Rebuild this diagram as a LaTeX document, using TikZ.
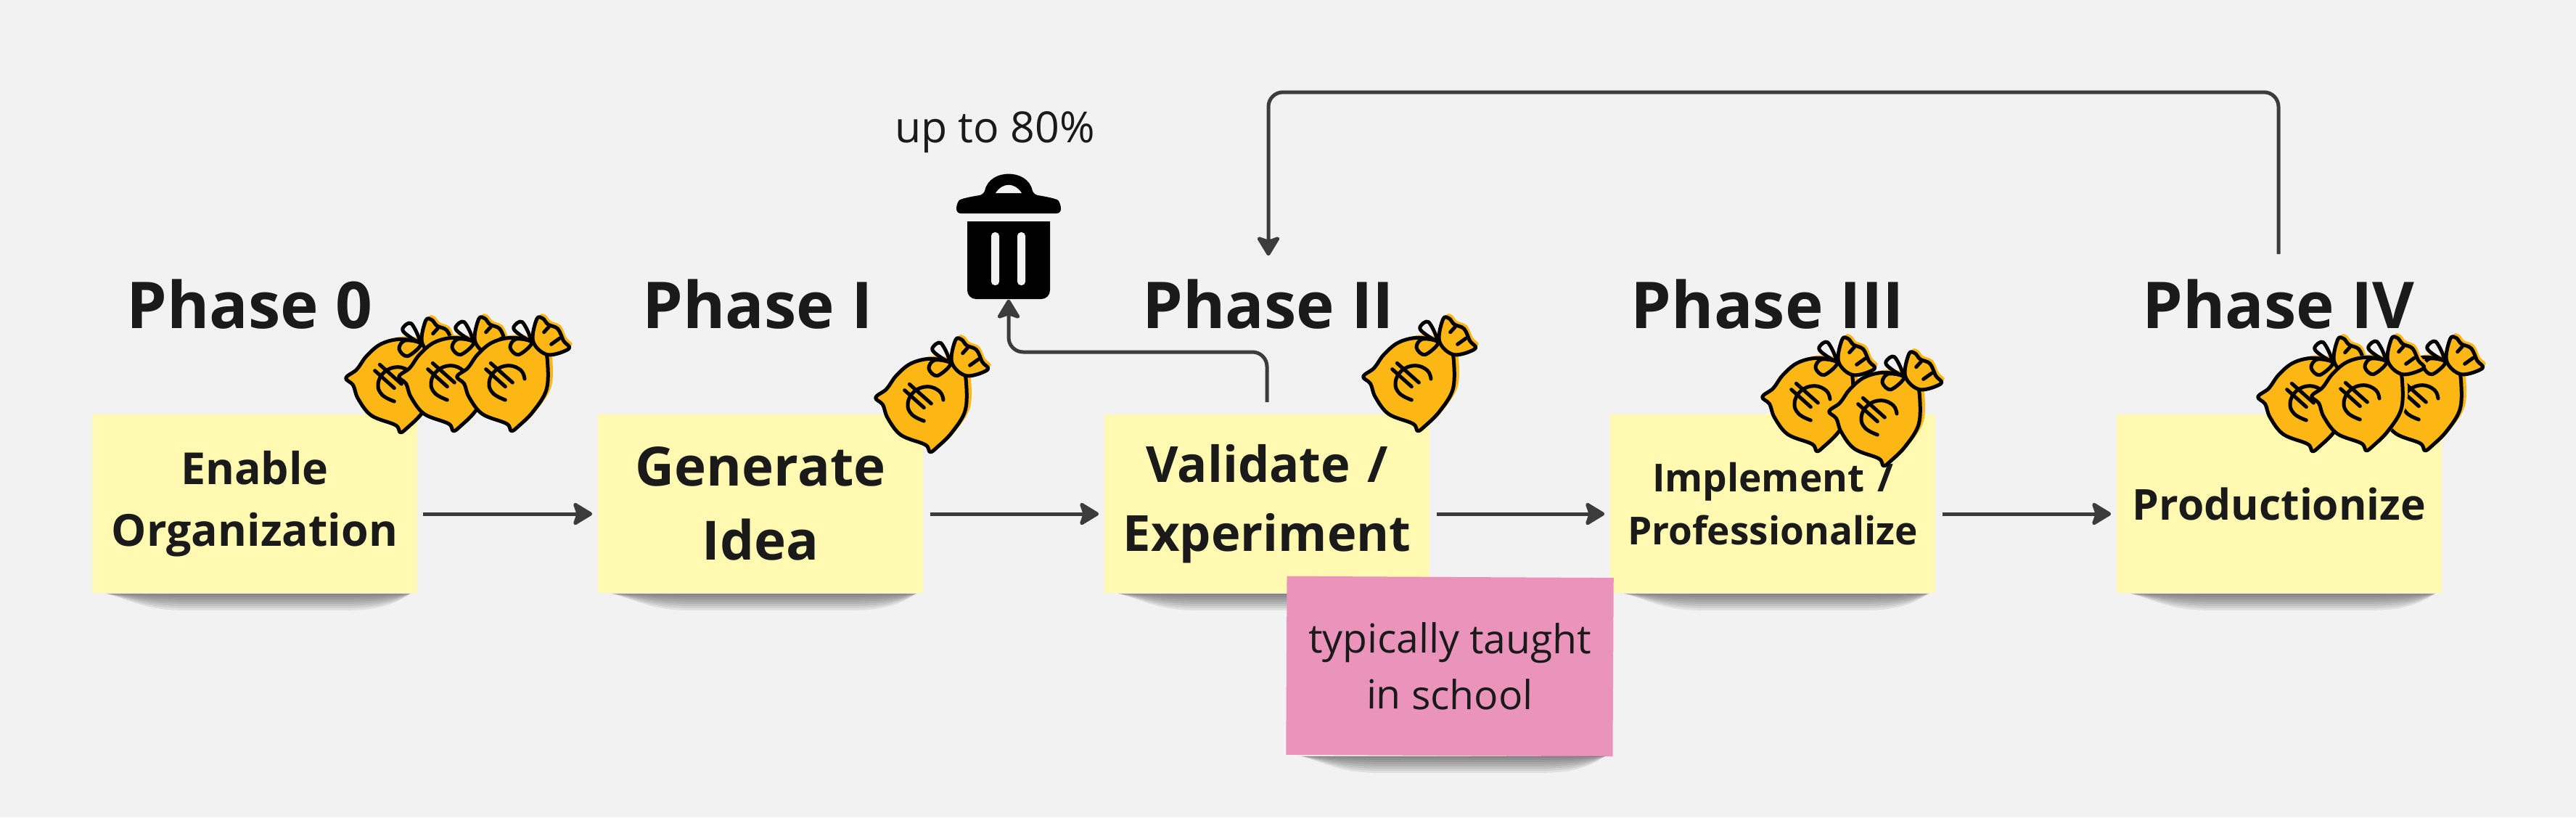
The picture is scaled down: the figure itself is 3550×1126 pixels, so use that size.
\documentclass[tikz,border=0pt]{standalone}
\usepackage{fontspec}
\setmainfont{Open Sans}
\usetikzlibrary{arrows.meta}
\definecolor{bgcol}{HTML}{F2F2F2}
\definecolor{stickycol}{HTML}{FFF9B1}
\definecolor{pinkcol}{HTML}{EA94BB}
\definecolor{bagcol}{HTML}{FDB714}
\definecolor{linecol}{HTML}{3C3C3C}
\definecolor{inkcol}{HTML}{1A1A1A}
\begin{document}
\begin{tikzpicture}[x=0.01cm,y=-0.01cm,
	sticky_node/.style={fill=stickycol,minimum width=4.48cm,minimum height=2.46cm,inner sep=0pt,align=center,text=inkcol,text width=4.48cm},
	pink_node/.style={fill=pinkcol,minimum width=4.5cm,minimum height=2.46cm,inner sep=0pt,align=center,text=inkcol,font=\fontsize{15.7}{22}\selectfont,rotate=-0.3},
	phase_node/.style={anchor=base,inner sep=0pt,text height=18.5pt,text depth=0pt,text=inkcol,font=\fontsize{25.3}{30}\selectfont\bfseries},
	flow_line/.style={draw=linecol,line width=0.05cm,-{Stealth[length=3mm,width=3.6mm,inset=0.6mm,round]},rounded corners=0.2cm},
	bag_body/.style={smooth cycle,tension=0.6},
	note_shadow/.pic={
		\foreach \h in {2,5,...,23}
			\fill[black,opacity=0.07] (-205,0) .. controls (-170,0.4*\h) and (-150,\h) .. (-100,\h) -- (130,\h) .. controls (180,\h) and (200,0.4*\h) .. (215,0) -- cycle;
	},
	money_bag/.pic={
		\begin{scope}[scale=1/3,line width=0.05cm,line cap=round,line join=round]
		\fill[bagcol,shift={(20,-12)}] plot[bag_body] coordinates {(110,-170) (20,-185) (-60,-165) (-120,-115) (-160,-60) (-175,5) (-155,60) (-100,130) (0,170) (50,180) (110,120) (165,30) (170,-80) (155,-145)};
		\fill[bagcol,shift={(12,-14)}] plot[bag_body] coordinates {(110,-170) (125,-262) (150,-265) (172,-240) (212,-222) (236,-172) (258,-140) (170,-115)};
		\filldraw[fill=bagcol,draw=black] plot[bag_body] coordinates {(110,-170) (20,-185) (-60,-165) (-120,-115) (-160,-60) (-205,-25) (-175,5) (-155,60) (-100,130) (0,170) (20,200) (50,180) (110,120) (165,30) (170,-80) (155,-145)};
		\filldraw[fill=bagcol,draw=black] plot[bag_body] coordinates {(110,-170) (125,-262) (150,-265) (172,-240) (212,-222) (236,-172) (258,-140) (170,-115)};
		\draw plot[bag_body] coordinates {(100,-175) (65,-250) (30,-230) (45,-205)};
		\draw plot[bag_body] coordinates {(105,-165) (50,-115) (15,-145) (40,-180)};
		\draw (155,-208) -- (175,-230);
		\draw (185,-158) -- (220,-183);
		\draw plot[smooth,tension=0.7] coordinates {(75,-15) (60,-50) (10,-70) (-45,-50) (-72,0) (-55,45) (-5,72)};
		\draw (-65,-80) -- (25,0);
		\draw (-85,-55) -- (-5,17);
		\end{scope}
	},
	trash_can/.pic={
		\fill[black] (-57,0) -- (57,0) -- (57,90) [rounded corners=0.12cm] -- (57,107) -- (-57,107) [sharp corners] -- (-57,0) -- cycle;
		\fill[bgcol,rounded corners=0.05cm] (-24,15) rectangle (-13,88) (12,15) rectangle (23,88);
		\fill[black,rounded corners=0.06cm] (-72,-11) -- (-72,-24) .. controls (-66,-32) and (-40,-36) .. (-34,-37) .. controls (-26,-73) and (26,-73) .. (34,-37) .. controls (40,-36) and (66,-32) .. (72,-24) -- (72,-11) -- cycle;
		\fill[bgcol] (-18,-39) .. controls (-8,-54) and (8,-54) .. (18,-39) -- cycle;
	}]

	\fill[bgcol] (0,0) rectangle (3550,1126);
	\useasboundingbox (0,0) rectangle (3550,1126);

	\node[phase_node] (ph0) at (344,452) {Phase 0};
	\node[phase_node] (ph1) at (1044,452) {Phase I};
	\node[phase_node] (ph2) at (1748,452) {Phase II};
	\node[phase_node] (ph3) at (2436,452) {Phase III};
	\node[phase_node] (ph4) at (3140,452) {Phase IV};

	\node[sticky_node,font=\fontsize{17.3}{24}\selectfont\bfseries] (enable) at (351,694) {Enable\\Organization};
	\node[sticky_node,font=\fontsize{21.2}{29}\selectfont\bfseries] (generate) at (1048,694) {Generate\\Idea};
	\node[sticky_node,font=\fontsize{19.5}{27}\selectfont\bfseries] (validate) at (1746,694) {Validate /\\Experiment};
	\node[sticky_node,font=\fontsize{15.1}{20.7}\selectfont\bfseries] (implement) at (2443,694) {Implement /\\Professionalize};
	\node[sticky_node,font=\fontsize{16.7}{22}\selectfont\bfseries] (product) at (3141,694) {Productionize};

	% shadows under the stickies
	\foreach \n in {enable,generate,validate,implement,product}
		\pic at (\n.south) {note_shadow};

	\node[pink_node] (school) at (1998,918) {typically taught\\in school};
	\pic at (school.south) {note_shadow};

	\node[inner sep=0pt,text=inkcol,font=\fontsize{16.8}{20}\selectfont] (share) at (1371,182) {up to 80\%};

	\node[minimum width=1.14cm,minimum height=1.07cm,inner sep=0pt] (trash) at (1390,358.5) {};
	\pic at (1390,305) {trash_can};
	\coordinate (turn) at (1390,485);
	\coordinate (top) at (2445,127);

	\pic at (545,529) {money_bag};
	\pic at (618,527) {money_bag};
	\pic at (698,527) {money_bag};
	\pic at (1275,556) {money_bag};
	\pic at (1947,527) {money_bag};
	\pic at (2497,555) {money_bag};
	\pic at (2589,575) {money_bag};
	\pic at (3180,555) {money_bag};
	\pic at (3335,554) {money_bag};
	\pic at (3254,554) {money_bag};

	\draw[flow_line,shorten <=0.07cm,shorten >=0.07cm] ([yshift=-0.14cm]enable.east) -- ([yshift=-0.14cm]generate.west);
	\draw[flow_line,shorten <=0.09cm,shorten >=0.07cm] ([yshift=-0.14cm]generate.east) -- ([yshift=-0.14cm]validate.west);
	\draw[flow_line,shorten <=0.09cm,shorten >=0.07cm] ([yshift=-0.14cm]validate.east) -- ([yshift=-0.14cm]implement.west);
	\draw[flow_line,shorten <=0.09cm,shorten >=0.07cm] ([yshift=-0.14cm]implement.east) -- ([yshift=-0.14cm]product.west);
	\draw[flow_line,shorten <=0.16cm] (validate.north) |- (turn) -- (trash.south);
	\draw[flow_line,shorten <=0.36cm,shorten >=0.34cm] (ph4.north) |- (top) -| (ph2.north);
\end{tikzpicture}
\end{document}
